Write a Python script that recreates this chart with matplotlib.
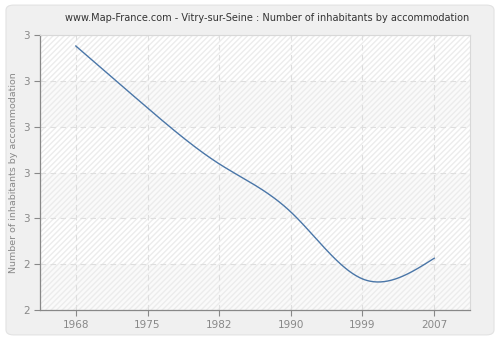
import numpy as np
import matplotlib
matplotlib.use("Agg")
import matplotlib.pyplot as plt
from matplotlib.patches import FancyBboxPatch

years = ["1968", "1975", "1982", "1990", "1999", "2007"]
values = [2.976, 2.841, 2.719, 2.614, 2.468, 2.513]
yticks = [2.4, 2.5, 2.6, 2.7, 2.8, 2.9, 3.0]
ytick_labels = ["2", "2", "3", "3", "3", "3", "3"]
title = "www.Map-France.com - Vitry-sur-Seine : Number of inhabitants by accommodation"
ylabel = "Number of inhabitants by accommodation"


def natural_spline(xs, ys, n=60):
    x = np.asarray(xs, float); y = np.asarray(ys, float)
    m = len(x)
    h = np.diff(x)
    A = np.zeros((m, m)); b = np.zeros(m)
    A[0, 0] = 1; A[-1, -1] = 1
    for i in range(1, m - 1):
        A[i, i - 1] = h[i - 1]
        A[i, i] = 2 * (h[i - 1] + h[i])
        A[i, i + 1] = h[i]
        b[i] = 3 * ((y[i + 1] - y[i]) / h[i] - (y[i] - y[i - 1]) / h[i - 1])
    c = np.linalg.solve(A, b)
    outx, outy = [], []
    for i in range(m - 1):
        bi = (y[i + 1] - y[i]) / h[i] - h[i] * (2 * c[i] + c[i + 1]) / 3
        di = (c[i + 1] - c[i]) / (3 * h[i])
        t = np.linspace(0, h[i], n, endpoint=(i == m - 2))
        outx.extend(x[i] + t)
        outy.extend(y[i] + bi * t + c[i] * t ** 2 + di * t ** 3)
    return np.array(outx), np.array(outy)


fig = plt.figure(figsize=(5, 3.4), dpi=100)
fig.patch.set_facecolor("white")
panel = FancyBboxPatch((0.012, 0.015), 0.976, 0.97, boxstyle="round,pad=0,rounding_size=0.015",
                       transform=fig.transFigure, facecolor="#f0f0f0", edgecolor="#e2e2e2",
                       linewidth=0.8, zorder=-10)
fig.patches.append(panel)

ax = fig.add_axes([0.08, 0.088, 0.86, 0.809])
ax.set_zorder(5)
ax.set_facecolor("white")
xpos = np.arange(len(years))
ax.set_xlim(-0.5, len(years) - 0.5)
ax.set_ylim(yticks[0], yticks[-1])

# alternating hatched bands
for k in range(len(yticks) - 1):
    fc = "#ffffff" if (len(yticks) - 2 - k) % 2 == 0 else "#fafafa"
    ax.axhspan(yticks[k], yticks[k + 1], facecolor=fc, edgecolor="#ececec",
               hatch="//////", linewidth=0, zorder=0)

ax.grid(True, color="#dedede", linestyle=(0, (5, 4)), linewidth=0.8, zorder=1)
ax.set_axisbelow(True)

sx, sy = natural_spline(xpos, values)
ax.plot(sx, sy, color="#4a76a8", linewidth=1.0, zorder=3)

ax.set_xticks(xpos)
ax.set_xticklabels(years)
ax.set_yticks(yticks)
ax.set_yticklabels(ytick_labels)
ax.tick_params(axis="both", colors="#888888", labelcolor="#888888", labelsize=7.5,
               length=4, width=0.8, direction="out")
for s in ["left", "bottom"]:
    ax.spines[s].set_color("#888888")
    ax.spines[s].set_linewidth(0.9)
for s in ["top", "right"]:
    ax.spines[s].set_color("#d8d8d8")
    ax.spines[s].set_linewidth(0.8)

ax.set_ylabel(ylabel, color="#888888", fontsize=6.8)
ax.yaxis.set_label_coords(-0.05, 0.5)
fig.text(0.535, 0.948, title, ha="center", va="center", fontsize=7.0, color="#333333")

fig.savefig("out.png", dpi=100, facecolor=fig.get_facecolor())
